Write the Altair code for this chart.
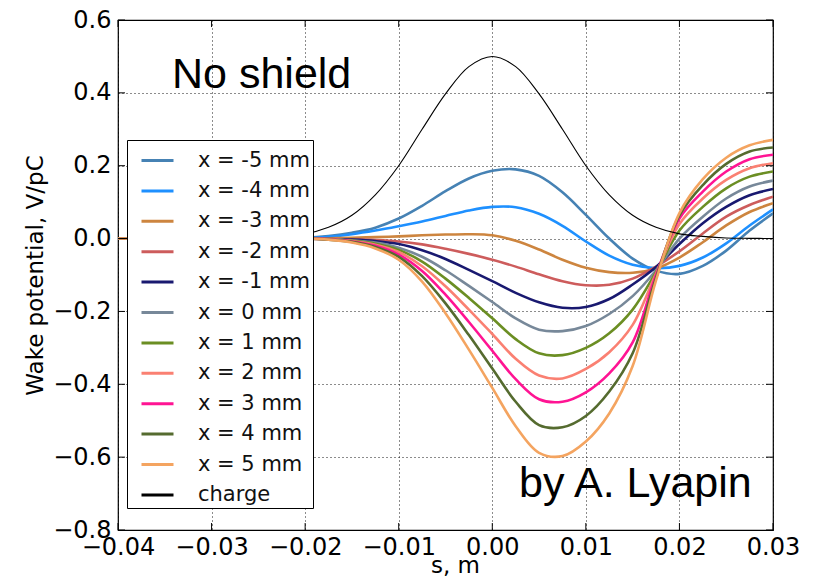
import altair as alt
import pandas as pd

# s positions (m)
S = [-0.04, -0.03, -0.025, -0.02, -0.0175, -0.015, -0.0125, -0.01, -0.0075, -0.005, -0.0025, 0.0,
     0.0025, 0.005, 0.0075, 0.01, 0.0125, 0.015, 0.0175, 0.02, 0.0225, 0.025, 0.0275, 0.03]

x_m5 = [0, 0, 0, 0.002, 0.007, 0.016, 0.03, 0.055, 0.09, 0.13, 0.165, 0.186, 0.19, 0.172, 0.127, 0.065, 0.0, -0.055, -0.088, -0.097, -0.075, -0.033, 0.022, 0.069]
x_m4 = [0, 0, 0, 0.001, 0.005, 0.012, 0.022, 0.034, 0.047, 0.062, 0.077, 0.087, 0.086, 0.068, 0.035, -0.008, -0.047, -0.072, -0.081, -0.075, -0.052, -0.013, 0.036, 0.08]
x_m3 = [0, 0, 0, 0, 0.001, 0.002, 0.004, 0.006, 0.009, 0.011, 0.012, 0.009, -0.006, -0.03, -0.058, -0.08, -0.092, -0.094, -0.082, -0.052, -0.01, 0.036, 0.073, 0.097]
x_m2 = [0, 0, 0, 0, -0.001, -0.002, -0.004, -0.008, -0.016, -0.028, -0.042, -0.058, -0.077, -0.098, -0.117, -0.128, -0.127, -0.11, -0.077, -0.035, 0.014, 0.06, 0.092, 0.115]
x_m1 = [0, 0, 0, 0, -0.001, -0.003, -0.007, -0.015, -0.032, -0.056, -0.086, -0.117, -0.149, -0.175, -0.19, -0.188, -0.166, -0.126, -0.078, -0.015, 0.042, 0.087, 0.119, 0.136]
x_0 = [0, 0, 0, 0, -0.001, -0.005, -0.011, -0.025, -0.05, -0.087, -0.13, -0.174, -0.219, -0.25, -0.254, -0.24, -0.207, -0.158, -0.087, 0.0, 0.06, 0.11, 0.143, 0.159]
x_p1 = [0, 0, 0, 0, -0.002, -0.006, -0.014, -0.031, -0.063, -0.11, -0.163, -0.219, -0.276, -0.315, -0.32, -0.3, -0.26, -0.195, -0.092, 0.022, 0.087, 0.138, 0.17, 0.184]
x_p2 = [0, 0, 0, 0, -0.002, -0.007, -0.017, -0.037, -0.076, -0.131, -0.195, -0.262, -0.33, -0.376, -0.384, -0.358, -0.312, -0.237, -0.096, 0.04, 0.11, 0.161, 0.193, 0.207]
x_p3 = [0, 0, 0, 0, -0.002, -0.008, -0.02, -0.044, -0.089, -0.154, -0.229, -0.308, -0.386, -0.441, -0.448, -0.422, -0.37, -0.285, -0.1, 0.055, 0.129, 0.184, 0.218, 0.23]
x_p4 = [0, 0, 0, 0, -0.003, -0.009, -0.023, -0.05, -0.103, -0.178, -0.265, -0.357, -0.448, -0.512, -0.518, -0.487, -0.42, -0.315, -0.108, 0.064, 0.147, 0.205, 0.239, 0.25]
x_p5 = [0, 0, 0, 0, -0.003, -0.011, -0.027, -0.058, -0.118, -0.205, -0.305, -0.41, -0.515, -0.588, -0.597, -0.557, -0.48, -0.35, -0.115, 0.07, 0.163, 0.222, 0.256, 0.271]
charge = [0, 0.0003, 0.0016, 0.013, 0.031, 0.064, 0.12, 0.2, 0.3, 0.397, 0.472, 0.5,
          0.472, 0.397, 0.3, 0.2, 0.12, 0.064, 0.031, 0.013, 0.006, 0.0016, 0.0006, 0.0003]

labels = ["x = -5 mm", "x = -4 mm", "x = -3 mm", "x = -2 mm", "x = -1 mm", "x = 0 mm",
          "x = 1 mm", "x = 2 mm", "x = 3 mm", "x = 4 mm", "x = 5 mm", "charge"]
colors = ["#4682b4", "#1e90ff", "#cd853f", "#cd5c5c", "#191970", "#778899",
          "#6b8e23", "#fa8072", "#ff1493", "#556b2f", "#f4a460", "#000000"]
widths = [2.6] * 11 + [1.1]
series_values = [x_m5, x_m4, x_m3, x_m2, x_m1, x_0, x_p1, x_p2, x_p3, x_p4, x_p5, charge]

x_ticks = [-0.04, -0.03, -0.02, -0.01, 0.0, 0.01, 0.02, 0.03]
y_ticks = [-0.8, -0.6, -0.4, -0.2, 0.0, 0.2, 0.4, 0.6]

rows = []
for k, (lab, vals, lw) in enumerate(zip(labels, series_values, widths)):
    for s, v in zip(S, vals):
        rows.append({"s": s, "w": v, "series": lab, "k": k, "lw": lw})
df = pd.DataFrame(rows)

W, H = 655, 510
xscale = alt.Scale(domain=[-0.04, 0.03], nice=False, zero=False)
yscale = alt.Scale(domain=[-0.8, 0.6], nice=False, zero=False)

lines = alt.Chart(df).mark_line(interpolate="catmull-rom", clip=True).encode(
    x=alt.X("s:Q", scale=xscale,
            axis=alt.Axis(values=x_ticks, format=".2f", title="s, m", titleX=337, titleY=42,
                          titleBaseline="alphabetic", labelPadding=5, labelFlush=False,
                          labelOverlap=False)),
    y=alt.Y("w:Q", scale=yscale,
            axis=alt.Axis(values=y_ticks, format=".1f", title="Wake potential, V/pC",
                          labelPadding=7, titlePadding=5, labelFlush=False, labelOverlap=False)),
    color=alt.Color("series:N", sort=labels,
                    scale=alt.Scale(domain=labels, range=colors),
                    legend=alt.Legend(orient="none", legendX=9, legendY=120, title=None,
                                      padding=3, symbolOffset=10, labelOffset=23,
                                      symbolType="stroke", symbolSize=1024, rowPadding=2.4,
                                      fillColor="white", strokeColor="black",
                                      labelFontSize=21, labelFont="DejaVu Sans",
                                      labelColor="#111", symbolStrokeWidth=3)),
    strokeWidth=alt.StrokeWidth("lw:Q", scale=None),
    order=alt.Order("k:Q"),
)

xt = pd.DataFrame({"s": x_ticks})
yt = pd.DataFrame({"w": y_ticks})
tick_b = alt.Chart(xt).mark_rule(color="black", strokeWidth=1).encode(
    x=alt.X("s:Q", scale=xscale), y=alt.value(H), y2=alt.value(H - 7))
tick_t = alt.Chart(xt).mark_rule(color="black", strokeWidth=1).encode(
    x=alt.X("s:Q", scale=xscale), y=alt.value(0), y2=alt.value(7))
tick_l = alt.Chart(yt).mark_rule(color="black", strokeWidth=1).encode(
    y=alt.Y("w:Q", scale=yscale), x=alt.value(0), x2=alt.value(7))
tick_r = alt.Chart(yt).mark_rule(color="black", strokeWidth=1).encode(
    y=alt.Y("w:Q", scale=yscale), x=alt.value(W), x2=alt.value(W - 7))

notes = pd.DataFrame({"t": ["No shield"]})
note1 = alt.Chart(notes).mark_text(font="Liberation Sans", fontSize=43, align="left",
                                   baseline="alphabetic", color="black").encode(
    text="t:N", x=alt.value(54), y=alt.value(68))
notes2 = pd.DataFrame({"t": ["by A. Lyapin"]})
note2 = alt.Chart(notes2).mark_text(font="Liberation Sans", fontSize=43, align="left",
                                    baseline="alphabetic", color="black").encode(
    text="t:N", x=alt.value(401), y=alt.value(477))

chart = alt.layer(lines, tick_b, tick_t, tick_l, tick_r, note1, note2).properties(
    width=W, height=H,
    autosize=alt.AutoSizeParams(type="none"),
    padding={"left": 110, "top": 12, "right": 30, "bottom": 46},
).configure_view(stroke="black", strokeWidth=1.2).configure_axis(
    domain=False, ticks=False, grid=True, gridColor="black", gridDash=[1, 3], gridWidth=1,
    gridOpacity=0.9, labelFont="DejaVu Sans", labelFontSize=24, labelColor="black",
    titleFont="DejaVu Sans", titleFontSize=23, titleColor="black", titleFontWeight="normal",
).configure_legend(cornerRadius=0, strokeWidth=1)

chart.save("out.html", embed_options={"renderer": "svg", "actions": False})
